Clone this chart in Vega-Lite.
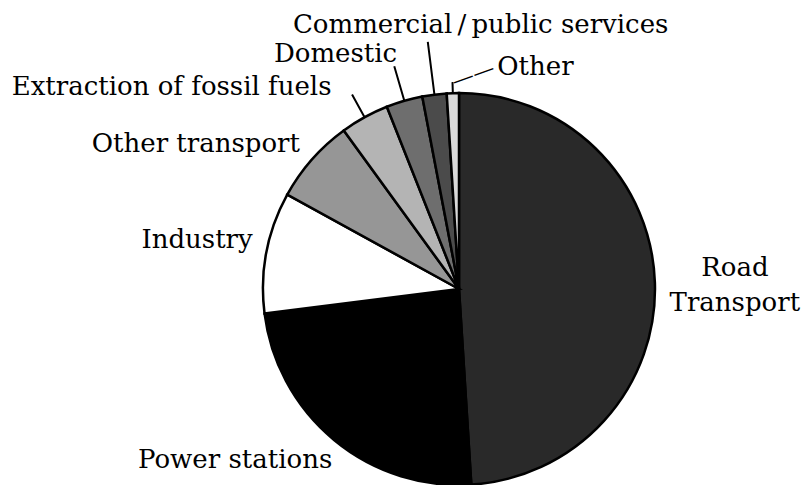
{
  "$schema": "https://vega.github.io/schema/vega-lite/v6.json",
  "width": 392,
  "height": 392,
  "autosize": {"type": "none"},
  "padding": {"left": 263, "top": 93, "right": 150, "bottom": 0},
  "background": "white",
  "config": {
    "view": {"stroke": null},
    "text": {"font": "DejaVu Serif", "fontSize": 26, "fill": "black", "baseline": "alphabetic"}
  },
  "data": {
    "values": [
      {"category": "Road Transport", "value": 49},
      {"category": "Power stations", "value": 24},
      {"category": "Industry", "value": 10},
      {"category": "Other transport", "value": 7},
      {"category": "Extraction of fossil fuels", "value": 4},
      {"category": "Domestic", "value": 3},
      {"category": "Commercial\u2009/\u2009public services", "value": 2},
      {"category": "Other", "value": 1}
    ]
  },
  "encoding": {
    "theta": {"field": "value", "type": "quantitative", "stack": true},
    "order": {"field": "value", "type": "quantitative", "sort": "descending"}
  },
  "layer": [
    {
      "mark": {"type": "arc", "radius": 196, "stroke": "black", "strokeWidth": 2.5},
      "encoding": {
        "color": {
          "field": "category",
          "type": "nominal",
          "legend": null,
          "scale": {
            "domain": ["Road Transport", "Power stations", "Industry", "Other transport", "Extraction of fossil fuels", "Domestic", "Commercial\u2009/\u2009public services", "Other"],
            "range": ["#292929", "#000000", "#ffffff", "#969696", "#b4b4b4", "#6e6e6e", "#4b4b4b", "#d9d9d9"]
          }
        }
      }
    },
    {
      "mark": {"type": "arc", "radius": 222, "radius2": 196, "padAngle": 1, "filled": false, "strokeWidth": 2},
      "encoding": {"stroke": {"condition": {"test": "datum.category === 'Extraction of fossil fuels'", "value": "black"}, "value": null}}
    },
    {
      "mark": {"type": "arc", "radius": 232, "radius2": 196, "padAngle": 1, "filled": false, "strokeWidth": 2},
      "encoding": {"stroke": {"condition": {"test": "datum.category === 'Domestic'", "value": "black"}, "value": null}}
    },
    {
      "mark": {"type": "arc", "radius": 249, "radius2": 196, "padAngle": 1, "filled": false, "strokeWidth": 2},
      "encoding": {"stroke": {"condition": {"test": "datum.value === 2", "value": "black"}, "value": null}}
    },
    {
      "mark": {"type": "arc", "radius": 207, "radius2": 196, "padAngle": 1, "filled": false, "strokeWidth": 2},
      "encoding": {"stroke": {"condition": {"test": "datum.category === 'Other'", "value": "black"}, "value": null}}
    },
    {
      "mark": {"type": "text", "radius": 207, "align": "left", "baseline": "middle", "angle": -20, "fontSize": 22},
      "encoding": {"text": {"condition": {"test": "datum.category === 'Other'", "value": "——"}, "value": ""}}
    },
    {
      "mark": {"type": "text", "radius": 276, "align": "center", "dy": -4, "lineBreak": " ", "lineHeight": 35},
      "encoding": {"text": {"condition": {"test": "datum.category === 'Road Transport'", "field": "category"}, "value": ""}}
    },
    {
      "mark": {"type": "text", "radius": 232, "align": "center", "dx": -76},
      "encoding": {"text": {"condition": {"test": "datum.category === 'Power stations'", "field": "category"}, "value": ""}}
    },
    {
      "mark": {"type": "text", "radius": 210, "align": "right", "dy": -2},
      "encoding": {"text": {"condition": {"test": "datum.category === 'Industry'", "field": "category"}, "value": ""}}
    },
    {
      "mark": {"type": "text", "radius": 212, "align": "right", "dy": 3},
      "encoding": {"text": {"condition": {"test": "datum.category === 'Other transport'", "field": "category"}, "value": ""}}
    },
    {
      "mark": {"type": "text", "radius": 221, "align": "right", "dx": -21},
      "encoding": {"text": {"condition": {"test": "datum.category === 'Extraction of fossil fuels'", "field": "category"}, "value": ""}}
    },
    {
      "mark": {"type": "text", "radius": 236, "align": "right", "dx": 4},
      "encoding": {"text": {"condition": {"test": "datum.category === 'Domestic'", "field": "category"}, "value": ""}}
    },
    {
      "mark": {"type": "text", "radius": 258, "align": "center", "dx": 54},
      "encoding": {"text": {"condition": {"test": "datum.value === 2", "field": "category"}, "value": ""}}
    },
    {
      "mark": {"type": "text", "radius": 214, "align": "left", "dx": 45},
      "encoding": {"text": {"condition": {"test": "datum.category === 'Other'", "field": "category"}, "value": ""}}
    }
  ]
}
